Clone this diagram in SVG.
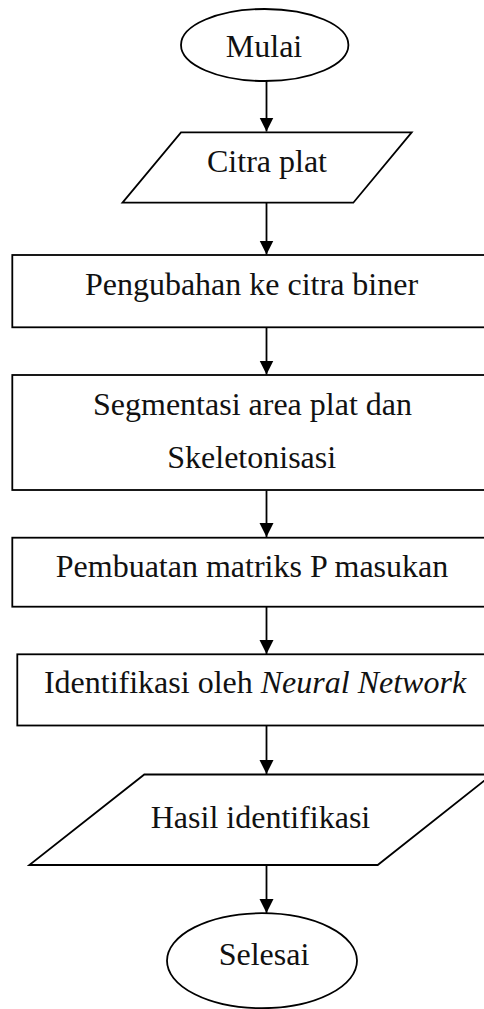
<svg xmlns="http://www.w3.org/2000/svg" width="484" height="1009" viewBox="0 0 484 1009">
<style>
.shape{fill:none;stroke:#000;stroke-width:1.8}
.lbl{font-family:"Liberation Serif","Times New Roman",serif;font-size:32px;fill:#111;text-anchor:middle}
.conn{stroke:#000;stroke-width:1.8;fill:none;marker-end:url(#arr)}
</style>
<defs>
<marker id="arr" markerUnits="userSpaceOnUse" markerWidth="14" markerHeight="16" refX="14" refY="7" orient="auto">
<path d="M0,0 L14,7 L0,14 Z" fill="#000"/>
</marker>
</defs>
<rect width="484" height="1009" fill="#fff"/>
<g id="mulai">
<ellipse class="shape" cx="264.7" cy="45" rx="83.7" ry="36"/>
<text class="lbl" x="264" y="57">Mulai</text>
</g>
<g id="citra-plat">
<polygon class="shape" points="181,132.3 411.7,132.3 353.3,202.7 122.5,202.7"/>
<text class="lbl" x="267" y="171.7">Citra plat</text>
</g>
<g id="pengubahan">
<rect class="shape" x="12.3" y="255" width="480" height="72.3"/>
<text class="lbl" x="251.5" y="295">Pengubahan ke citra biner</text>
</g>
<g id="segmentasi">
<rect class="shape" x="12.3" y="375" width="480" height="115"/>
<text class="lbl" x="252.5" y="415">Segmentasi area plat dan</text>
<text class="lbl" x="251.7" y="468.3">Skeletonisasi</text>
</g>
<g id="pembuatan">
<rect class="shape" x="12.3" y="537.7" width="480" height="69"/>
<text class="lbl" x="252" y="576.7">Pembuatan matriks P masukan</text>
</g>
<g id="identifikasi">
<rect class="shape" x="17.3" y="654.3" width="475" height="71.2"/>
<text class="lbl" x="255" y="693.3">Identifikasi oleh <tspan font-style="italic">Neural Network</tspan></text>
</g>
<g id="hasil">
<polygon class="shape" points="144.3,774.5 492,774.5 377.7,865 29.3,865"/>
<text class="lbl" x="260.5" y="828.3">Hasil identifikasi</text>
</g>
<g id="selesai">
<ellipse class="shape" cx="262" cy="960.7" rx="95" ry="47.5"/>
<text class="lbl" x="264" y="965">Selesai</text>
</g>
<g id="connectors">
<line class="conn" x1="266.5" y1="81" x2="266.5" y2="131.5"/>
<line class="conn" x1="266.5" y1="203" x2="266.5" y2="254.5"/>
<line class="conn" x1="266.5" y1="327.5" x2="266.5" y2="374.5"/>
<line class="conn" x1="266.5" y1="490.5" x2="266.5" y2="537"/>
<line class="conn" x1="266.5" y1="607" x2="266.5" y2="654"/>
<line class="conn" x1="266.5" y1="725.5" x2="266.5" y2="774"/>
<line class="conn" x1="266.5" y1="865" x2="266.5" y2="913"/>
</g>
</svg>
